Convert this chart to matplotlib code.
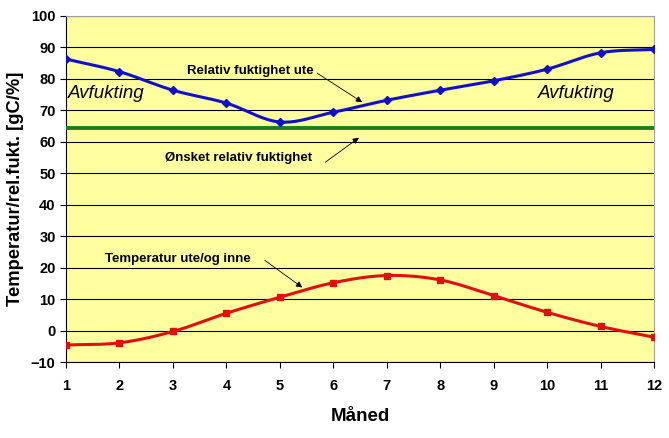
import matplotlib.pyplot as plt
import numpy as np

maaned = [1, 2, 3, 4, 5, 6, 7, 8, 9, 10, 11, 12]
rel_fukt_ute = [86.3, 82.3, 76.4, 72.3, 66.3, 69.4, 73.2, 76.4, 79.4, 83.1, 88.3, 89.4]
temperatur = [-4.6, -3.9, -0.3, 5.5, 10.6, 15.2, 17.5, 16.1, 11.1, 5.8, 1.3, -2.1]
onsket_fukt = 64.5
yticks = list(range(-10, 101, 10))


# smooth line through the points (like excel's smoothed line), Catmull-Rom
def smooth(x, y, n=20):
    x = np.asarray(x, float)
    y = np.asarray(y, float)
    px = np.concatenate([[2 * x[0] - x[1]], x, [2 * x[-1] - x[-2]]])
    py = np.concatenate([[2 * y[0] - y[1]], y, [2 * y[-1] - y[-2]]])
    xs, ys = [], []
    t = np.linspace(0, 1, n, endpoint=False)
    for i in range(1, len(px) - 2):
        for p, out in ((px, xs), (py, ys)):
            p0, p1, p2, p3 = p[i - 1], p[i], p[i + 1], p[i + 2]
            out.extend(0.5 * (2 * p1 + (-p0 + p2) * t
                              + (2 * p0 - 5 * p1 + 4 * p2 - p3) * t ** 2
                              + (-p0 + 3 * p1 - 3 * p2 + p3) * t ** 3))
    xs.append(x[-1])
    ys.append(y[-1])
    return np.array(xs), np.array(ys)


plt.rcParams['font.family'] = ['Liberation Sans', 'DejaVu Sans']

fig = plt.figure(figsize=(6.69, 4.38), dpi=100)
ax = fig.add_axes([0.0987, 0.1735, 0.8789, 0.79])
ax.set_facecolor('#FFFFA0')

for v in yticks:
    ax.axhline(v, color='black', lw=0.8, zorder=1)

sx, sy = smooth(maaned, rel_fukt_ute)
ax.plot(sx, sy, color='#1010C8', lw=2.2, zorder=3)
ax.plot(maaned, rel_fukt_ute, ls='none', marker='D', ms=4, color='#1010C8', zorder=4)

ax.axhline(onsket_fukt, color='#1E7E1E', lw=2.8, zorder=3)

sx, sy = smooth(maaned, temperatur)
ax.plot(sx, sy, color='#E01010', lw=2.2, zorder=3)
ax.plot(maaned, temperatur, ls='none', marker='s', ms=5, color='#E01010', zorder=4)

ax.set_xlim(1, 12)
ax.set_ylim(-10, 100)
ax.set_xticks(maaned)
ax.set_yticks(yticks)
ax.tick_params(labelsize=10.5, length=4, direction='out', color='black')
for lab in ax.get_xticklabels() + ax.get_yticklabels():
    lab.set_fontweight('bold')
ax.tick_params(axis='x', pad=8)

for s in ['top', 'right']:
    ax.spines[s].set_color('#A0A0A0')
for s in ['left', 'bottom']:
    ax.spines[s].set_color('black')

ax.set_xlabel('Måned', fontsize=13.5, fontweight='bold', labelpad=11)
ax.set_ylabel('Temperatur/rel.fukt. [gC/%]', fontsize=13.2, fontweight='bold', labelpad=5)

ax.text(1.04, 75.2, 'Avfukting', fontsize=13.5, style='italic', va='center')
ax.text(9.83, 75.2, 'Avfukting', fontsize=13.5, style='italic', va='center')

# labels and arrows
ax.text(3.26, 82.5, 'Relativ fuktighet ute', fontsize=9.5, fontweight='bold', va='center', zorder=5)
ax.text(2.85, 54.8, 'Ønsket relativ fuktighet', fontsize=9.5, fontweight='bold', va='center', zorder=5)
ax.text(1.73, 22.9, 'Temperatur ute/og inne', fontsize=9.5, fontweight='bold', va='center', zorder=5)

arrow = dict(arrowstyle='-|>', color='black', lw=0.6, mutation_scale=9, shrinkA=0, shrinkB=0)
ax.annotate('', xy=(6.54, 72.6), xytext=(5.70, 81.8), arrowprops=arrow, zorder=5)
ax.annotate('', xy=(6.48, 61.3), xytext=(5.85, 53.5), arrowprops=arrow, zorder=5)
ax.annotate('', xy=(5.42, 13.7), xytext=(4.72, 22.3), arrowprops=arrow, zorder=5)

fig.savefig('out.png', dpi=100)
